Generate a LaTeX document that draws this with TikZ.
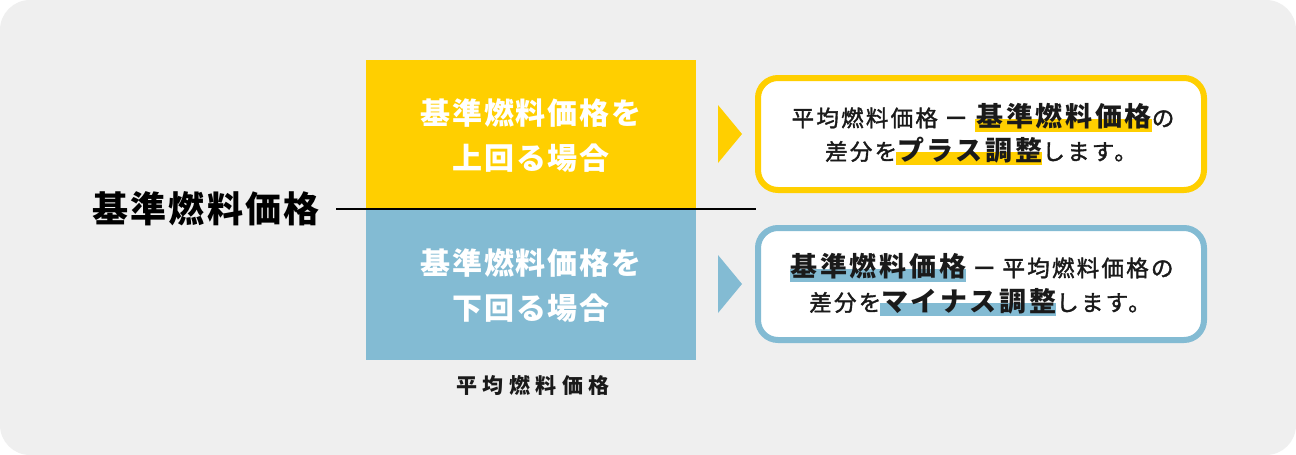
\documentclass[tikz,border=0pt]{standalone}
\usepackage{fontspec}
\usetikzlibrary{calc}
\newfontfamily\jpA[LetterSpace=6]{Noto Sans CJK JP}
\newfontfamily\jpC[LetterSpace=10, FakeBold=1.6]{Noto Sans CJK JP}
\newfontfamily\jpCB[LetterSpace=10]{Noto Sans CJK JP}
\newfontfamily\jpL[LetterSpace=26]{Noto Sans CJK JP}
\definecolor{bgc}{HTML}{EFEFEF}
\definecolor{yel}{HTML}{FFCF00}
\definecolor{blu}{HTML}{83BBD3}
\definecolor{inkc}{HTML}{1A1A1A}
\newcommand{\hlmark}[2]{\setbox0\hbox{#2}\rlap{\kern-1pt\textcolor{#1}{\rule[-5pt]{\dimexpr\wd0+1pt\relax}{13pt}}}\box0}
\newcommand{\keyword}[1]{{\jpCB\bfseries\fontsize{27}{30}\selectfont #1}}
\tikzset{
  case/.style={inner sep=0pt, minimum width=330pt},
  casetext/.style={text=white, font=\jpA\bfseries\fontsize{30}{45}\selectfont, align=center, inner sep=0pt},
  resbox/.style={fill=white, line width=6pt, rounded corners=20pt, minimum width=446pt, minimum height=112pt, inner sep=0pt},
  resline/.style={anchor=base, inner sep=0pt, text=inkc, font=\jpC\fontsize{22.5}{26}\selectfont},
}
\begin{document}
\begin{tikzpicture}[x=1pt,y=-1pt]
\useasboundingbox (0,0) rectangle (1296,455);
\fill[white] (0,0) rectangle (1296,455);
\fill[bgc, rounded corners=30pt] (0,0) rectangle (1296,455);

% case boxes
\node[case, fill=yel, minimum height=149pt] (up) at (531,134.5) {};
\node[case, fill=blu, minimum height=151pt] (down) at (531,284.5) {};
\node[casetext] (uptxt) at (531,136) {基準燃料価格を\\上回る場合};
\node[casetext] (downtxt) at (531,286) {基準燃料価格を\\下回る場合};

% title and label
\node[anchor=base, inner sep=0pt, text=black, font=\jpA\bfseries\fontsize{36}{40}\selectfont] (title) at (206,222.5) {基準燃料価格};
\node[anchor=base, inner sep=0pt, text=inkc, font=\jpL\bfseries\fontsize{21}{24}\selectfont] (avg) at (533,393.5) {平均燃料価格};

% dividing line
\coordinate (lineL) at (336,209);
\coordinate (lineR) at (756,209);
\draw[line width=1.3pt, black] (lineL) -- (lineR);

% triangles
\fill[yel] (718,105) -- (742,134) -- (718,163) -- cycle;
\fill[blu] (718,255) -- (742,284) -- (718,313) -- cycle;

% result boxes
\node[resbox, draw=yel] (rup) at (981,134) {};
\node[resbox, draw=blu] (rdown) at (981,284) {};

\node[resline] (rupA) at (983,126.5) {平均燃料価格\hspace*{7pt}ー\hspace*{9pt}\hlmark{yel}{\keyword{基準燃料価格}}の};
\node[resline] (rupB) at (981,160) {差分を\hlmark{yel}{\keyword{プラス調整}}します。};

\node[resline] (rdownA) at (982,276.5) {\hlmark{blu}{\keyword{基準燃料価格}}\hspace*{7pt}ー\hspace*{7pt}平均燃料価格の};
\node[resline] (rdownB) at (980,311) {差分を\hlmark{blu}{\keyword{マイナス調整}}します。};
\end{tikzpicture}
\end{document}
